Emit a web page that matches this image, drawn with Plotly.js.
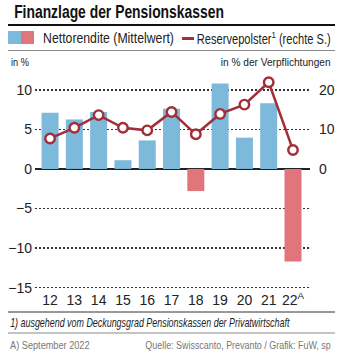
<!DOCTYPE html>
<html><head><meta charset="utf-8">
<script src="https://cdn.plot.ly/plotly-3.0.1.min.js"></script>
<style>html,body{margin:0;padding:0;background:#fff}#c{width:352px;height:361px}</style>
</head><body><div id="c"></div>
<script>
const years = ['12','13','14','15','16','17','18','19','20','21','22<sup>A</sup>'];
const nettorendite = [7.1, 6.25, 7.2, 1.1, 3.6, 7.6, -2.8, 10.8, 3.95, 8.3, -11.7];
const reservepolster = [7.7, 10.4, 13.6, 10.4, 9.75, 14.4, 8.75, 13.9, 16.25, 21.9, 4.8];
const leftTicks = [-15, -10, -5, 0, 5, 10];
const leftTickText = ['\u221215', '\u221210', '\u22125', '0', '5', '10'];
const rightTicks = [0, 10, 20];

const F = '"Liberation Sans", Arial, sans-serif';
const TXT = '#222';
const BLUE = '#7db9da', RED = '#e0767c', LINE = '#a12f3a';

const bars = {
  type: 'bar', x: years, y: nettorendite,
  marker: {color: nettorendite.map(v => v >= 0 ? BLUE : RED)},
  hoverinfo: 'skip', showlegend: false
};
const line = {
  type: 'scatter', mode: 'lines+markers', x: years, y: reservepolster, yaxis: 'y2',
  line: {color: LINE, width: 2.5},
  marker: {symbol: 'circle', size: 9.5, color: '#fff', line: {color: LINE, width: 2.4}},
  hoverinfo: 'skip', showlegend: false
};

// paper coords helpers (plot area: x 35..310, y 70..290)
const px = v => (v - 35) / 275;
const py = v => (290 - v) / 220;

const layout = {
  width: 352, height: 361,
  margin: {l: 35, r: 42, t: 70, b: 71},
  paper_bgcolor: '#fff', plot_bgcolor: '#fff',
  font: {family: F, color: TXT, size: 13},
  bargap: 0.3,
  showlegend: false,
  xaxis: {
    type: 'category', range: [-0.62, 10.7], showgrid: false, ticks: '', showline: false,
    tickfont: {size: 14, family: F, color: TXT}, fixedrange: true
  },
  yaxis: {
    range: [-15.3, 12.5], tickvals: leftTicks, ticktext: leftTickText,
    showgrid: true, gridcolor: '#333', griddash: '1.5px,2.5px', gridwidth: 1.5,
    zeroline: true, zerolinecolor: '#222', zerolinewidth: 2,
    ticks: '', ticklen: 0, ticklabelstandoff: 2, tickfont: {size: 14, family: F, color: TXT}, fixedrange: true
  },
  yaxis2: {
    overlaying: 'y', side: 'right', range: [-30.6, 25], tickvals: rightTicks,
    showgrid: false, zeroline: false, ticks: '', ticklabelstandoff: 8,
    tickfont: {size: 14, family: F, color: TXT}, fixedrange: true
  },
  shapes: [
    {type: 'line', xref: 'paper', yref: 'paper', x0: px(8), x1: px(335), y0: py(25), y1: py(25), line: {color: '#111', width: 2}},
    {type: 'rect', xref: 'paper', yref: 'paper', x0: px(8), x1: px(21), y0: py(44), y1: py(31), line: {width: 0}, fillcolor: BLUE},
    {type: 'rect', xref: 'paper', yref: 'paper', x0: px(21), x1: px(34), y0: py(44), y1: py(31), line: {width: 0}, fillcolor: RED},
    {type: 'line', xref: 'paper', yref: 'paper', x0: px(182), x1: px(194), y0: py(38.5), y1: py(38.5), line: {color: LINE, width: 3}},
    {type: 'line', xref: 'paper', yref: 'paper', x0: px(8), x1: px(335), y0: py(50.5), y1: py(50.5), line: {color: '#888', width: 1}},
    {type: 'line', xref: 'paper', yref: 'paper', x0: px(8), x1: px(335), y0: py(312), y1: py(312), line: {color: '#333', width: 1}},
    {type: 'line', xref: 'paper', yref: 'paper', x0: px(8), x1: px(335), y0: py(333), y1: py(333), line: {color: '#888', width: 1}}
  ],
  annotations: [
    {xref: 'paper', yref: 'paper', x: px(12), y: py(12), xanchor: 'left', yanchor: 'middle', showarrow: false,
     text: '<b>Finanzlage der Pensionskassen</b>', font: {size: 19, family: F, color: '#111'}},
    {xref: 'paper', yref: 'paper', x: px(41), y: py(38), xanchor: 'left', yanchor: 'middle', showarrow: false,
     text: 'Nettorendite (Mittelwert)', font: {size: 14, family: F, color: TXT}},
    {xref: 'paper', yref: 'paper', x: px(333), y: py(38), xanchor: 'right', yanchor: 'middle', showarrow: false,
     text: 'Reservepolster<sup>1</sup> (rechte S.)', font: {size: 14, family: F, color: TXT}},
    {xref: 'paper', yref: 'paper', x: px(9), y: py(62), xanchor: 'left', yanchor: 'middle', showarrow: false,
     text: 'in %', font: {size: 11.5, family: F, color: TXT}},
    {xref: 'paper', yref: 'paper', x: px(333), y: py(62), xanchor: 'right', yanchor: 'middle', showarrow: false,
     text: 'in % der Verpflichtungen', font: {size: 11.5, family: F, color: TXT}},
    {xref: 'paper', yref: 'paper', x: px(8), y: py(323), xanchor: 'left', yanchor: 'middle', showarrow: false,
     text: '<i>1) ausgehend vom Deckungsgrad Pensionskassen der Privatwirtschaft</i>', font: {size: 12, family: F, color: TXT}},
    {xref: 'paper', yref: 'paper', x: px(8), y: py(345), xanchor: 'left', yanchor: 'middle', showarrow: false,
     text: 'A) September 2022', font: {size: 10, family: F, color: '#777'}},
    {xref: 'paper', yref: 'paper', x: px(333), y: py(345), xanchor: 'right', yanchor: 'middle', showarrow: false,
     text: 'Quelle: Swisscanto, Prevanto / Grafik: FuW, sp', font: {size: 10, family: F, color: '#777'}}
  ]
};

// target widths (px), used to condense each text horizontally
const fitWidths = [210, 131, 134, 18, 110, 280, 80, 186];

Plotly.newPlot('c', [bars, line], layout, {displayModeBar: false, staticPlot: true}).then(gd => {
  const texts = gd.querySelectorAll('g.annotation text.annotation-text');
  texts.forEach((t, i) => {
    const w = t.getBBox().width;
    const target = fitWidths[i];
    if (!w || !target) return;
    const s = Math.min(1, target / w);
    const anchor = layout.annotations[i].xanchor === 'right' ? 'right' : 'left';
    t.style.transformBox = 'fill-box';
    t.style.transformOrigin = anchor + ' center';
    t.style.transform = 'scaleX(' + s.toFixed(3) + ')';
  });
});
</script>
</body></html>
